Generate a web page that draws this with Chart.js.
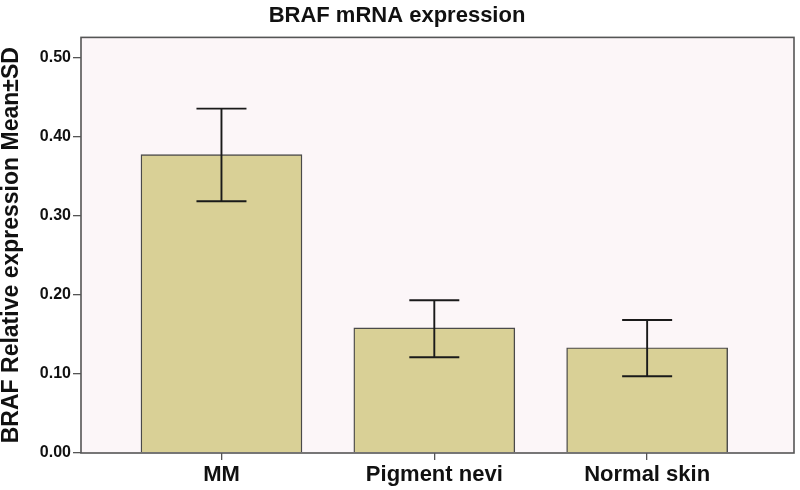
<!DOCTYPE html>
<html>
<head>
<meta charset="utf-8">
<script src="https://cdn.jsdelivr.net/npm/chart.js@4"></script>
<style>
html,body{margin:0;padding:0;background:#fff;}
#wrap{width:800px;height:490px;}
</style>
</head>
<body>
<div id="wrap"><canvas id="c" width="800" height="490"></canvas></div>
<script>
const categories = ["MM", "Pigment nevi", "Normal skin"];
const means = [0.377, 0.158, 0.133];
const sdUpper = [0.435, 0.193, 0.168];
const sdLower = [0.318, 0.121, 0.097];
const yTicks = [0.00, 0.10, 0.20, 0.30, 0.40, 0.50];

const plotBg = {
  id: 'plotBg',
  beforeDraw(chart) {
    const {ctx, chartArea: a} = chart;
    ctx.save();
    ctx.fillStyle = '#fcf6f8';
    ctx.fillRect(a.left, a.top, a.right - a.left, a.bottom - a.top);
    ctx.restore();
  },
  afterDraw(chart) {
    const {ctx, chartArea: a} = chart;
    ctx.save();
    ctx.strokeStyle = '#555';
    ctx.lineWidth = 1.6;
    ctx.strokeRect(a.left, a.top, a.right - a.left, a.bottom - a.top);
    ctx.restore();
  }
};

const errorBars = {
  id: 'errorBars',
  afterDatasetsDraw(chart) {
    const {ctx, scales: {x, y}} = chart;
    ctx.save();
    ctx.strokeStyle = '#1a1a1a';
    ctx.lineWidth = 1.9;
    for (let i = 0; i < means.length; i++) {
      const px = x.getPixelForValue(i);
      const top = y.getPixelForValue(sdUpper[i]);
      const bot = y.getPixelForValue(sdLower[i]);
      const half = 25;
      ctx.beginPath();
      ctx.moveTo(px, top); ctx.lineTo(px, bot);
      ctx.moveTo(px - half, top); ctx.lineTo(px + half, top);
      ctx.moveTo(px - half, bot); ctx.lineTo(px + half, bot);
      ctx.stroke();
    }
    ctx.restore();
  }
};

new Chart(document.getElementById('c'), {
  type: 'bar',
  data: {
    datasets: [{
      data: means.map((v, i) => ({x: i, y: v})),
      backgroundColor: '#d9d096',
      borderColor: '#4a4a4a',
      borderWidth: 1.4,
      barThickness: 161
    }]
  },
  options: {
    responsive: false,
    animation: false,
    layout: {padding: {left: 0, right: 6, top: 0, bottom: 0}},
    plugins: {
      legend: {display: false},
      tooltip: {enabled: false},
      title: {
        display: true,
        text: 'BRAF mRNA expression',
        color: '#111',
        font: {family: 'Liberation Sans, Arial, sans-serif', size: 22, weight: 'bold', lineHeight: 1.2},
        padding: {top: 3, bottom: 8}
      }
    },
    scales: {
      x: {
        type: 'linear',
        offset: false,
        min: -0.66,
        max: 2.69,
        afterBuildTicks(scale) { scale.ticks = categories.map((c, i) => ({value: i})); },
        afterFit(scale) { scale.height = 37; },
        ticks: {
          callback: (v) => categories[v],
          color: '#111',
          padding: 4,
          font: {family: 'Liberation Sans, Arial, sans-serif', size: 22, weight: 'bold', lineHeight: 1},
          maxRotation: 0, autoSkip: false
        },
        grid: {display: true, offset: false, drawOnChartArea: false, drawTicks: true, tickLength: 7, color: '#555', lineWidth: 1.3},
        border: {display: false}
      },
      y: {
        min: 0,
        max: 0.525,
        afterBuildTicks(scale) { scale.ticks = yTicks.map(v => ({value: v})); },
        afterFit(scale) { scale.width = 81; },
        ticks: {
          callback: (v) => v.toFixed(2),
          color: '#111',
          padding: 2,
          font: {family: 'Liberation Sans, Arial, sans-serif', size: 16, weight: 'bold'}
        },
        grid: {display: true, drawOnChartArea: false, drawTicks: true, tickLength: 8, color: '#555', lineWidth: 1.3},
        border: {display: false},
        title: {
          display: true,
          text: 'BRAF Relative expression Mean±SD',
          color: '#111',
          padding: {top: 0, bottom: 0},
          font: {family: 'Liberation Sans, Arial, sans-serif', size: 23, weight: 'bold', lineHeight: 1}
        }
      }
    }
  },
  plugins: [plotBg, errorBars]
});
</script>
</body>
</html>
